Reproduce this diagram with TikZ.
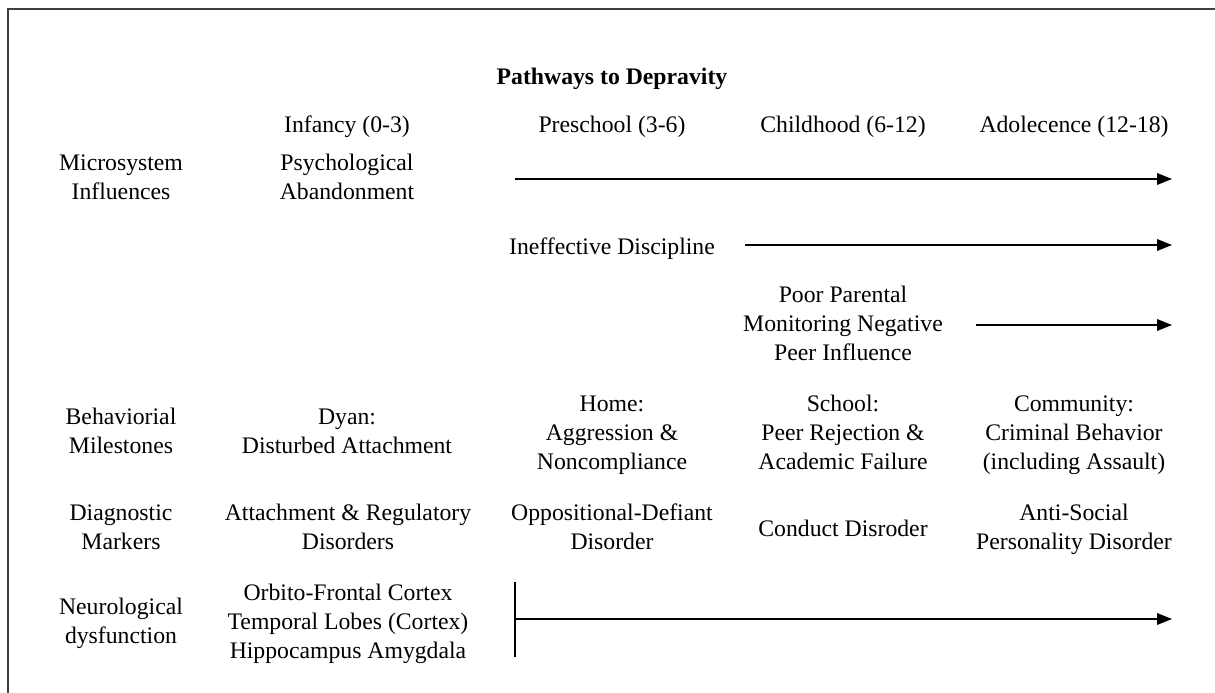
\documentclass[tikz,border=0pt]{standalone}
\usepackage{fontspec}
\setmainfont{Liberation Serif}
\usetikzlibrary{arrows.meta}

\begin{document}
\begin{tikzpicture}[x=0.02cm, y=-0.02cm, ->, >={Triangle[length=8.5pt, width=6.6pt]}, line width=0.8pt,
                    font=\fontsize{13.5}{16.5}\selectfont]
                \tikzstyle{cell}=[align=center, inner sep=2pt, yshift=-2pt, execute at begin node=\strut, execute at end node=\strut]
                \tikzstyle{rowhead}=[cell]
                \tikzstyle{agehead}=[cell]

                \clip (0, 0) rectangle (1215, 693);
                \draw[-, line width=0.6pt, black!75] (8, 9) rectangle (1240, 720);

                \node[cell, font=\fontsize{13.5}{16.5}\selectfont\bfseries] (title) at (612, 75) {Pathways to Depravity};

                \node[agehead] (inf) at (347, 123) {Infancy (0-3)};
                \node[agehead] (pre) at (612, 123) {Preschool (3-6)};
                \node[agehead] (chi) at (843, 123) {Childhood (6-12)};
                \node[agehead] (ado) at (1074, 123) {Adolecence (12-18)};

                \node[rowhead] (micro) at (121, 177.5) {Microsystem\\Influences};
                \node[rowhead] (behav) at (121, 432) {Behaviorial\\Milestones};
                \node[rowhead] (diag) at (121, 527.5) {Diagnostic\\Markers};
                \node[rowhead] (neuro) at (121, 622) {Neurological\\dysfunction};

                \node[cell] (psych) at (347, 177.5) {Psychological\\Abandonment};
                \node[cell] (disc) at (612, 245) {Ineffective Discipline};
                \node[cell] (monit) at (843, 324) {Poor Parental\\Monitoring Negative\\Peer Influence};

                \node[cell] (dyan) at (347, 432) {Dyan:\\Disturbed Attachment};
                \node[cell] (home) at (612, 433.5) {Home:\\Aggression \&\\Noncompliance};
                \node[cell] (school) at (843, 433.5) {School:\\Peer Rejection \&\\Academic Failure};
                \node[cell] (commu) at (1074, 433.5) {Community:\\Criminal Behavior\\(including Assault)};

                \node[cell] (attach) at (348, 527.5) {Attachment \& Regulatory\\Disorders};
                \node[cell] (odd) at (612, 527.5) {Oppositional-Defiant\\Disorder};
                \node[cell] (conduct) at (843, 527.5) {Conduct Disroder};
                \node[cell] (asp) at (1074, 527.5) {Anti-Social\\Personality Disorder};

                \node[cell] (cortex) at (348, 622) {Orbito-Frontal Cortex\\Temporal Lobes (Cortex)\\Hippocampus Amygdala};

                \coordinate (psychS) at (515, 179);
                \coordinate (psychE) at (1172, 179);
                \coordinate (discS) at (745, 245);
                \coordinate (discE) at (1172, 245);
                \coordinate (monitS) at (976, 325);
                \coordinate (monitE) at (1172, 325);
                \coordinate (barT) at (515, 582);
                \coordinate (barB) at (515, 657);
                \coordinate (cortexS) at (515, 619);
                \coordinate (cortexE) at (1172, 619);

                \path (psychS) edge (psychE);
                \path (discS) edge (discE);
                \path (monitS) edge (monitE);
                \path (barT) edge[-] (barB);
                \path (cortexS) edge (cortexE);
            \end{tikzpicture}
\end{document}
